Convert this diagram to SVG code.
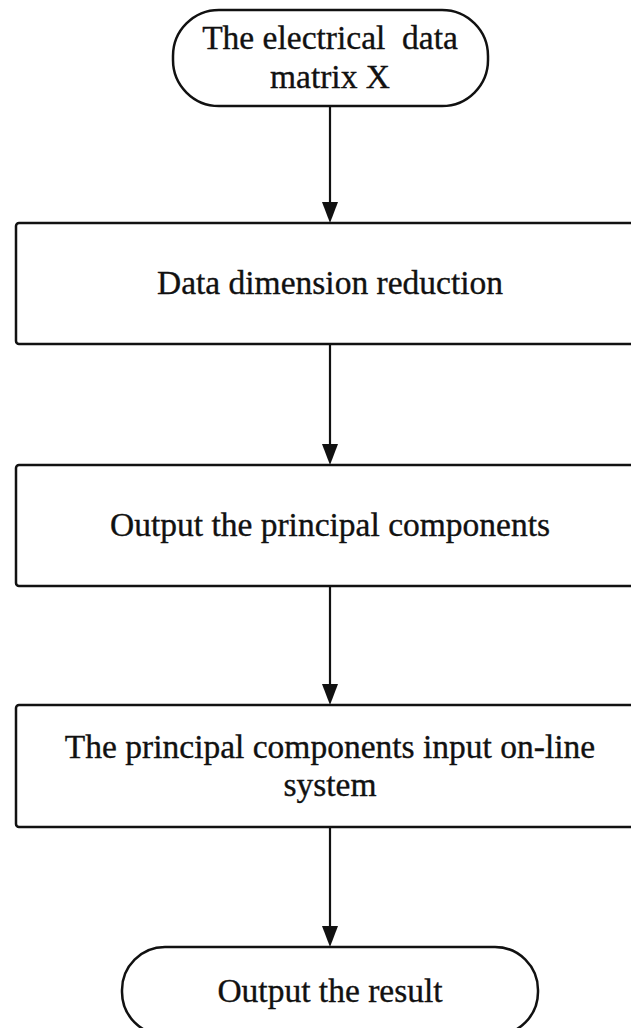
<svg xmlns="http://www.w3.org/2000/svg" width="631" height="1028" viewBox="0 0 631 1028">
  <style>
    .shape { fill: #ffffff; stroke: #111111; stroke-width: 2.5; }
    .label { font-family: "Liberation Serif", "Times New Roman", serif; font-size: 33.5px; fill: #111111; stroke: #111111; stroke-width: 0.35; text-anchor: middle; white-space: pre; }
    .conn { stroke: #111111; stroke-width: 2.2; fill: none; }
    .head { fill: #111111; }
  </style>
  <rect width="631" height="1028" fill="#ffffff"/>
  <g id="connectors">
    <line class="conn" x1="330" y1="106" x2="330" y2="204"/>
    <polygon class="head" points="322,202 338,202 330,223"/>
    <line class="conn" x1="330" y1="344" x2="330" y2="446"/>
    <polygon class="head" points="322,444 338,444 330,465"/>
    <line class="conn" x1="330" y1="586" x2="330" y2="686"/>
    <polygon class="head" points="322,684 338,684 330,705"/>
    <line class="conn" x1="330" y1="827" x2="330" y2="928"/>
    <polygon class="head" points="322,926 338,926 330,947"/>
  </g>
  <g id="start">
    <rect class="shape" x="173" y="10" width="315" height="96" rx="46" ry="46"/>
    <text class="label" x="330" y="49" xml:space="preserve">The electrical  data</text>
    <text class="label" x="330" y="88">matrix X</text>
  </g>
  <g id="reduce">
    <rect class="shape" x="16" y="223" width="640" height="121" rx="3"/>
    <text class="label" x="330" y="294">Data dimension reduction</text>
  </g>
  <g id="output-pc">
    <rect class="shape" x="16" y="465" width="640" height="121" rx="3"/>
    <text class="label" x="330" y="536">Output the principal components</text>
  </g>
  <g id="input-online">
    <rect class="shape" x="16" y="705" width="640" height="122" rx="3"/>
    <text class="label" x="330" y="758">The principal components input on-line</text>
    <text class="label" x="330" y="796">system</text>
  </g>
  <g id="end">
    <rect class="shape" x="122" y="947" width="416" height="88" rx="43" ry="43"/>
    <text class="label" x="330" y="1002">Output the result</text>
  </g>
</svg>
